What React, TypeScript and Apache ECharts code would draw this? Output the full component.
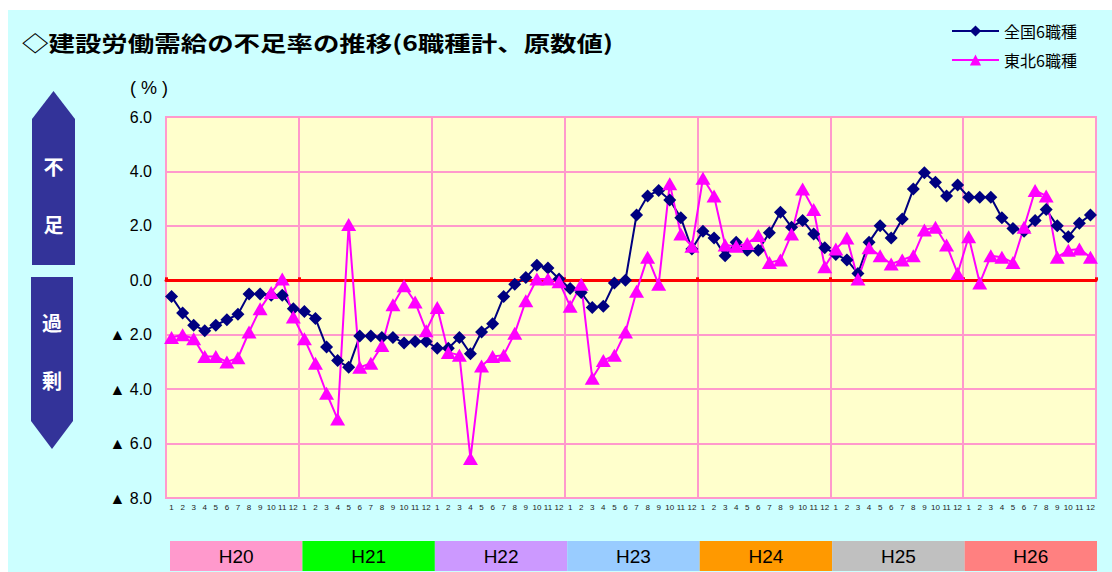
import React, { useEffect, useRef } from "react";
import * as echarts from "echarts";

const years = ["H20", "H21", "H22", "H23", "H24", "H25", "H26"];
const months = ["1", "2", "3", "4", "5", "6", "7", "8", "9", "10", "11", "12"];
const yTicks = [-8, -6, -4, -2, 0, 2, 4, 6];

// 全国6職種
const zenkoku = [
  -0.6, -1.2, -1.65, -1.85, -1.65, -1.45, -1.25, -0.5, -0.5, -0.55, -0.55, -1.05,
  -1.15, -1.4, -2.45, -2.95, -3.2, -2.05, -2.05, -2.1, -2.1, -2.3, -2.25, -2.25,
  -2.5, -2.5, -2.1, -2.7, -1.9, -1.6, -0.6, -0.15, 0.1, 0.55, 0.45, 0.05,
  -0.3, -0.45, -1.0, -0.95, -0.1, 0.0, 2.4, 3.1, 3.3, 2.95, 2.3, 1.15,
  1.8, 1.55, 0.9, 1.4, 1.1, 1.1, 1.75, 2.5, 1.95, 2.2, 1.7, 1.2,
  0.95, 0.75, 0.25, 1.4, 2.0, 1.55, 2.25, 3.35, 3.95, 3.6, 3.1, 3.5,
  3.05, 3.05, 3.05, 2.3, 1.9, 1.8, 2.2, 2.6, 2.0, 1.6, 2.1, 2.4,
];

// 東北6職種
const tohoku = [
  -2.1, -2.0, -2.15, -2.8, -2.8, -3.0, -2.85, -1.9, -1.05, -0.45, 0.05, -1.35,
  -2.15, -3.05, -4.15, -5.1, 2.05, -3.2, -3.05, -2.4, -0.9, -0.2, -0.8, -1.85,
  -1.0, -2.65, -2.75, -6.55, -3.15, -2.8, -2.75, -1.95, -0.75, 0.05, 0.05, -0.05,
  -0.95, -0.15, -3.6, -2.95, -2.75, -1.9, -0.4, 0.85, -0.15, 3.55, 1.7, 1.25,
  3.75, 3.1, 1.3, 1.25, 1.35, 1.65, 0.65, 0.75, 1.7, 3.35, 2.6, 0.5,
  1.15, 1.55, 0.05, 1.2, 0.9, 0.6, 0.75, 0.9, 1.85, 1.95, 1.3, 0.25,
  1.6, -0.1, 0.9, 0.85, 0.65, 1.95, 3.3, 3.1, 0.85, 1.1, 1.15, 0.85,
];

const seriesNames = ["全国6職種", "東北6職種"];
const yearColors = ["#FF99CC", "#00FF00", "#CC99FF", "#99CCFF", "#FF9900", "#C0C0C0", "#FF8080"];

const categories = years.flatMap((y) => months.map((m) => `${y}-${m}`));

const latin = "'Liberation Sans', Arial, sans-serif";
const cjk = "'Noto Sans CJK JP', 'Noto Sans', sans-serif";

export default function App() {
  const ref = useRef<HTMLDivElement>(null);

  useEffect(() => {
    if (!ref.current) return;
    const chart = echarts.init(ref.current, null, { renderer: "svg" });
    const pink = "#FF99CC";
    chart.setOption({
      animation: false,
      backgroundColor: "#CCFFFF",
      legend: {
        data: seriesNames,
        orient: "vertical",
        left: 938,
        top: 8,
        itemWidth: 47,
        itemHeight: 14,
        itemGap: 13,
        textStyle: { fontFamily: cjk, fontSize: 16, color: "#000" },
      },
      grid: [
        {
          left: 158,
          top: 107,
          width: 930,
          height: 381,
          show: true,
          backgroundColor: "#FFFFCC",
          borderColor: pink,
          borderWidth: 2,
        },
        { left: 162, top: 531, width: 927, height: 30 },
      ],
      xAxis: [
        {
          type: "category",
          gridIndex: 0,
          data: categories,
          boundaryGap: true,
          axisLine: { show: false, onZero: false },
          axisTick: { show: false },
          axisLabel: {
            interval: 0,
            margin: 5,
            fontSize: 8,
            fontFamily: latin,
            color: "#222",
            formatter: (v: string) => v.split("-")[1],
          },
          splitLine: {
            show: true,
            interval: (i: number) => i % 12 === 0,
            lineStyle: { color: pink, width: 2 },
          },
        },
        {
          type: "category",
          gridIndex: 0,
          data: categories,
          position: "bottom",
          boundaryGap: true,
          axisLine: { show: true, onZero: true, lineStyle: { color: "#FF0000", width: 3 } },
          axisTick: {
            show: true,
            interval: (i: number) => i % 12 === 0,
            length: 3,
            inside: true,
            lineStyle: { color: "#FF0000", width: 3 },
          },
          axisLabel: { show: false },
          splitLine: { show: false },
        },
        {
          type: "category",
          gridIndex: 1,
          data: years,
          show: false,
        },
      ],
      yAxis: [
        {
          type: "value",
          gridIndex: 0,
          min: -8,
          max: 6,
          interval: 2,
          axisLine: { show: false },
          axisTick: { show: false },
          axisLabel: {
            margin: 14,
            fontSize: 16,
            fontFamily: latin,
            color: "#000",
            formatter: (v: number) =>
              yTicks.includes(v) ? (v < 0 ? `▲ ${Math.abs(v).toFixed(1)}` : v.toFixed(1)) : "",
          },
          splitLine: { show: true, lineStyle: { color: pink, width: 2 } },
        },
        { type: "value", gridIndex: 1, min: 0, max: 1, show: false },
      ],
      series: [
        {
          name: seriesNames[0],
          type: "line",
          xAxisIndex: 0,
          yAxisIndex: 0,
          data: zenkoku,
          symbol: "diamond",
          symbolSize: 13,
          color: "#000080",
          lineStyle: { color: "#000080", width: 2 },
          itemStyle: { color: "#000080" },
        },
        {
          name: seriesNames[1],
          type: "line",
          xAxisIndex: 0,
          yAxisIndex: 0,
          data: tohoku,
          symbol: "triangle",
          symbolSize: [15, 13],
          color: "#FF00FF",
          lineStyle: { color: "#FF00FF", width: 2 },
          itemStyle: { color: "#FF00FF" },
        },
        {
          type: "bar",
          xAxisIndex: 2,
          yAxisIndex: 1,
          barCategoryGap: "0%",
          silent: true,
          data: years.map((y, i) => ({ value: 1, itemStyle: { color: yearColors[i] } })),
          label: {
            show: true,
            position: "inside",
            formatter: "{b}",
            fontSize: 19,
            fontFamily: latin,
            color: "#000",
          },
        },
      ],
      graphic: [
        {
          type: "text",
          x: 14,
          y: 32,
          scaleX: 1.26,
          style: {
            text: "◇建設労働需給の不足率の推移(6職種計、原数値)",
            fontSize: 21,
            fontWeight: "bold",
            fontFamily: cjk,
            fill: "#000",
            verticalAlign: "middle",
            align: "left",
          },
        },
        {
          type: "text",
          x: 141,
          y: 78,
          style: {
            text: "( % )",
            fontSize: 18,
            fontFamily: latin,
            fill: "#000",
            align: "center",
            verticalAlign: "middle",
          },
        },
        {
          type: "polygon",
          shape: { points: [[24, 109], [45.5, 81], [67, 109], [67, 255], [24, 255]] },
          style: { fill: "#333399" },
        },
        {
          type: "polygon",
          shape: { points: [[23, 267], [65, 267], [65, 411], [44, 439], [23, 411]] },
          style: { fill: "#333399" },
        },
        ...[
          ["不", 45.5, 156],
          ["足", 45.5, 214],
          ["過", 44, 312],
          ["剰", 44, 370],
        ].map(([t, x, y]) => ({
          type: "text",
          x,
          y,
          style: {
            text: t,
            fontSize: 20,
            fontWeight: "bold",
            fontFamily: cjk,
            fill: "#FFFFFF",
            align: "center",
            verticalAlign: "middle",
          },
        })),
      ],
    });
    return () => chart.dispose();
  }, []);

  return (
    <div style={{ position: "absolute", left: 0, top: 0, width: 1112, height: 572, background: "#FFFFFF" }}>
      <div ref={ref} style={{ position: "absolute", left: 8, top: 10, width: 1104, height: 562 }} />
    </div>
  );
}
